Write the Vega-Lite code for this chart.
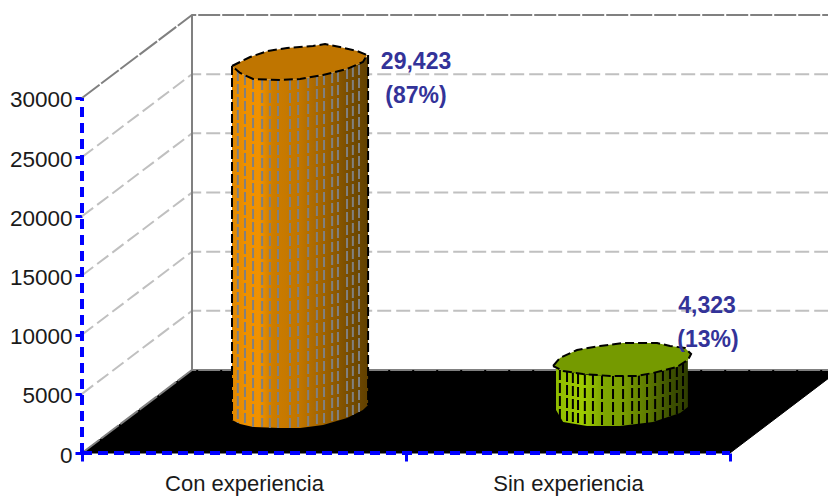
{"$schema":"https://vega.github.io/schema/vega-lite/v6.json","width":746,"height":438,"autosize":{"type":"none"},"padding":{"left":82,"top":15,"right":0,"bottom":45},"background":"white","view":{"stroke":null},
"datasets":{
"floor":[{"i":1,"u":0,"v":0},{"i":2,"u":0.3395,"v":7014},{"i":3,"u":2.3025,"v":7014},{"i":4,"u":2.3025,"v":6280},{"i":5,"u":2,"v":0},{"i":6,"u":0,"v":0}],
"grid":[
{"g":5000,"i":1,"u":0,"v":5000},{"g":5000,"i":2,"u":0.3395,"v":12014},{"g":5000,"i":3,"u":2.3025,"v":12014},
{"g":10000,"i":1,"u":0,"v":10000},{"g":10000,"i":2,"u":0.3395,"v":17014},{"g":10000,"i":3,"u":2.3025,"v":17014},
{"g":15000,"i":1,"u":0,"v":15000},{"g":15000,"i":2,"u":0.3395,"v":22014},{"g":15000,"i":3,"u":2.3025,"v":22014},
{"g":20000,"i":1,"u":0,"v":20000},{"g":20000,"i":2,"u":0.3395,"v":27014},{"g":20000,"i":3,"u":2.3025,"v":27014},
{"g":25000,"i":1,"u":0,"v":25000},{"g":25000,"i":2,"u":0.3395,"v":32014},{"g":25000,"i":3,"u":2.3025,"v":32014}],
"frame":[
{"g":"top","i":1,"u":0,"v":30000},{"g":"top","i":2,"u":0.3395,"v":37010},{"g":"top","i":3,"u":2.3025,"v":37010},
{"g":"base","i":1,"u":0,"v":0},{"g":"base","i":2,"u":0.3395,"v":7014},{"g":"base","i":3,"u":2.3025,"v":7014}],
"wallEdge":[{"u":0.3395,"v":7014,"v2":37010}],
"blueAxes":[{"g":"y","i":1,"u":0,"v":0},{"g":"y","i":2,"u":0,"v":30000},{"g":"x","i":1,"u":0,"v":0},{"g":"x","i":2,"u":2,"v":0}],
"orangeBody":[{"u":0.463,"v":32702,"v2":2789},{"u":0.488,"v":32110,"v2":2451},{"u":0.528,"v":31603,"v2":2197},{"u":0.611,"v":31519,"v2":2113},{"u":0.673,"v":31603,"v2":2113},{"u":0.744,"v":31941,"v2":2366},{"u":0.818,"v":32448,"v2":2958},{"u":0.867,"v":33040,"v2":3634},{"u":0.883,"v":33631,"v2":4056}],
"orangeStripes":[{"u":0.481,"v":32279,"v2":2535},{"u":0.503,"v":31941,"v2":2366},{"u":0.528,"v":31603,"v2":2197},{"u":0.556,"v":31519,"v2":2197},{"u":0.58,"v":31519,"v2":2113},{"u":0.605,"v":31519,"v2":2113},{"u":0.642,"v":31519,"v2":2113},{"u":0.667,"v":31603,"v2":2113},{"u":0.698,"v":31688,"v2":2113},{"u":0.725,"v":31857,"v2":2282},{"u":0.747,"v":31941,"v2":2366},{"u":0.772,"v":32110,"v2":2535},{"u":0.79,"v":32195,"v2":2704},{"u":0.818,"v":32448,"v2":2958},{"u":0.836,"v":32617,"v2":3211},{"u":0.855,"v":32786,"v2":3465}],
"orangeEdges":[{"u":0.463,"v":32702,"v2":2789},{"u":0.883,"v":33631,"v2":4056}],
"orangeTop":[{"i":1,"u":0.463,"v":32702},{"i":2,"u":0.519,"v":33462},{"i":3,"u":0.574,"v":33969},{"i":4,"u":0.633,"v":34223},{"i":5,"u":0.713,"v":34392},{"i":6,"u":0.75,"v":34561},{"i":7,"u":0.796,"v":34307},{"i":8,"u":0.849,"v":33969},{"i":9,"u":0.88,"v":33631},{"i":10,"u":0.867,"v":33040},{"i":11,"u":0.818,"v":32448},{"i":12,"u":0.744,"v":31941},{"i":13,"u":0.673,"v":31603},{"i":14,"u":0.611,"v":31519},{"i":15,"u":0.528,"v":31603},{"i":16,"u":0.488,"v":32110},{"i":17,"u":0.463,"v":32702}],
"greenBody":[{"u":1.463,"v":7183,"v2":3634},{"u":1.485,"v":6929,"v2":2620},{"u":1.559,"v":6591,"v2":2282},{"u":1.66,"v":6507,"v2":2282},{"u":1.762,"v":6760,"v2":2620},{"u":1.846,"v":7436,"v2":3380},{"u":1.87,"v":7859,"v2":3887}],
"greenStripes":[{"u":1.475,"v":7014,"v2":2958},{"u":1.497,"v":6845,"v2":2535},{"u":1.515,"v":6760,"v2":2451},{"u":1.531,"v":6676,"v2":2366},{"u":1.552,"v":6591,"v2":2282},{"u":1.577,"v":6591,"v2":2282},{"u":1.605,"v":6507,"v2":2282},{"u":1.639,"v":6507,"v2":2282},{"u":1.67,"v":6507,"v2":2282},{"u":1.698,"v":6591,"v2":2366},{"u":1.719,"v":6591,"v2":2451},{"u":1.744,"v":6676,"v2":2535},{"u":1.769,"v":6760,"v2":2704},{"u":1.793,"v":6929,"v2":2873},{"u":1.815,"v":7098,"v2":3127},{"u":1.836,"v":7267,"v2":3296},{"u":1.855,"v":7605,"v2":3634}],
"greenTop":[{"i":1,"u":1.454,"v":7352},{"i":2,"u":1.475,"v":8028},{"i":3,"u":1.528,"v":8704},{"i":4,"u":1.599,"v":9042},{"i":5,"u":1.67,"v":9295},{"i":6,"u":1.775,"v":9295},{"i":7,"u":1.815,"v":9042},{"i":8,"u":1.861,"v":8873},{"i":9,"u":1.88,"v":8366},{"i":10,"u":1.87,"v":7859},{"i":11,"u":1.836,"v":7267},{"i":12,"u":1.762,"v":6760},{"i":13,"u":1.713,"v":6507},{"i":14,"u":1.63,"v":6507},{"i":15,"u":1.546,"v":6676},{"i":16,"u":1.485,"v":6929},{"i":17,"u":1.454,"v":7352}],
"labels":[{"u":1.031,"v":32448,"t":"29,423"},{"u":1.031,"v":29575,"t":"(87%)"},{"u":1.929,"v":11830,"t":"4,323"},{"u":1.932,"v":8957,"t":"(13%)"}]
},
"encoding":{
"x":{"field":"u","type":"quantitative","scale":{"domain":[0,2.3025],"nice":false,"zero":false},"axis":{"title":null,"grid":false,"domain":false,"values":[0,0.5,1,1.5,2],"labelExpr":"datum.value==0.5?'Con experiencia':datum.value==1.5?'Sin experiencia':''","tickColor":"#0000FF","tickWidth":3,"tickSize":8,"tickOpacity":{"condition":{"test":"datum.value==0.5||datum.value==1.5","value":0},"value":1},"labelFont":"Liberation Sans","labelFontSize":22,"labelColor":"#1a1a1a","labelPadding":12,"labelBaseline":"top","labelOverlap":false,"labelFlush":false}},
"y":{"field":"v","type":"quantitative","scale":{"domain":[0,37011],"nice":false,"zero":false},"axis":{"title":null,"grid":false,"domain":false,"values":[0,5000,10000,15000,20000,25000,30000],"format":"d","tickColor":"#0000FF","tickWidth":3,"tickSize":7,"labelFont":"Liberation Sans","labelFontSize":22.5,"labelColor":"#1a1a1a","labelPadding":3,"labelOffset":2,"labelOverlap":false,"labelFlush":false}}
},
"layer":[
{"data":{"name":"grid"},"mark":{"type":"line","stroke":"#C0C0C0","strokeWidth":2,"strokeDash":[14,5]},"encoding":{"detail":{"field":"g"},"order":{"field":"i"}}},
{"data":{"name":"floor"},"mark":{"type":"line","fill":"#000000","stroke":"#000000","strokeWidth":1},"encoding":{"order":{"field":"i"}}},
{"data":{"name":"frame"},"mark":{"type":"line","stroke":"#808080","strokeWidth":2,"strokeDash":[22,2]},"encoding":{"detail":{"field":"g"},"order":{"field":"i"}}},
{"data":{"name":"wallEdge"},"mark":{"type":"rule","stroke":"#808080","strokeWidth":2},"encoding":{"y2":{"field":"v2"}}},
{"data":{"name":"orangeBody"},"mark":{"type":"area","fill":{"gradient":"linear","x1":0,"y1":0,"x2":1,"y2":0,"stops":[{"offset":0,"color":"#E08800"},{"offset":0.1,"color":"#EE9000"},{"offset":0.2,"color":"#F09200"},{"offset":0.3,"color":"#CC7C00"},{"offset":0.5,"color":"#C07500"},{"offset":0.7,"color":"#9A6000"},{"offset":0.85,"color":"#7A4E00"},{"offset":1,"color":"#604000"}]}},"encoding":{"y2":{"field":"v2"}}},
{"data":{"name":"orangeStripes"},"mark":{"type":"rule","stroke":"#808080","strokeWidth":2,"strokeDash":[10,3]},"encoding":{"y2":{"field":"v2"}}},
{"data":{"name":"orangeEdges"},"mark":{"type":"rule","stroke":"#000000","strokeWidth":2,"strokeDash":[9,3]},"encoding":{"y2":{"field":"v2"}}},
{"data":{"name":"orangeTop"},"mark":{"type":"line","fill":"#BF7500","stroke":"#000000","strokeWidth":2,"strokeDash":[9,4]},"encoding":{"order":{"field":"i"}}},
{"data":{"name":"greenBody"},"mark":{"type":"area","fill":{"gradient":"linear","x1":0,"y1":0,"x2":1,"y2":0,"stops":[{"offset":0,"color":"#8FBB00"},{"offset":0.2,"color":"#9ECB00"},{"offset":0.35,"color":"#7FA800"},{"offset":0.5,"color":"#7A9F00"},{"offset":0.7,"color":"#5C7800"},{"offset":0.85,"color":"#405400"},{"offset":1,"color":"#2E3C00"}]}},"encoding":{"y2":{"field":"v2"}}},
{"data":{"name":"greenStripes"},"mark":{"type":"rule","stroke":"#000000","strokeWidth":2,"strokeDash":[10,3]},"encoding":{"y2":{"field":"v2"}}},
{"data":{"name":"greenTop"},"mark":{"type":"line","fill":"#759A00","stroke":"#000000","strokeWidth":2,"strokeDash":[9,4]},"encoding":{"order":{"field":"i"}}},
{"data":{"name":"blueAxes"},"mark":{"type":"line","stroke":"#0000FF","strokeWidth":4,"strokeDash":[10,6]},"encoding":{"detail":{"field":"g"},"order":{"field":"i"}}},
{"data":{"name":"labels"},"mark":{"type":"text","color":"#333399","fontSize":23,"fontWeight":"bold","font":"Liberation Sans","align":"center","baseline":"alphabetic"},"encoding":{"text":{"field":"t","type":"nominal"}}}
]}
